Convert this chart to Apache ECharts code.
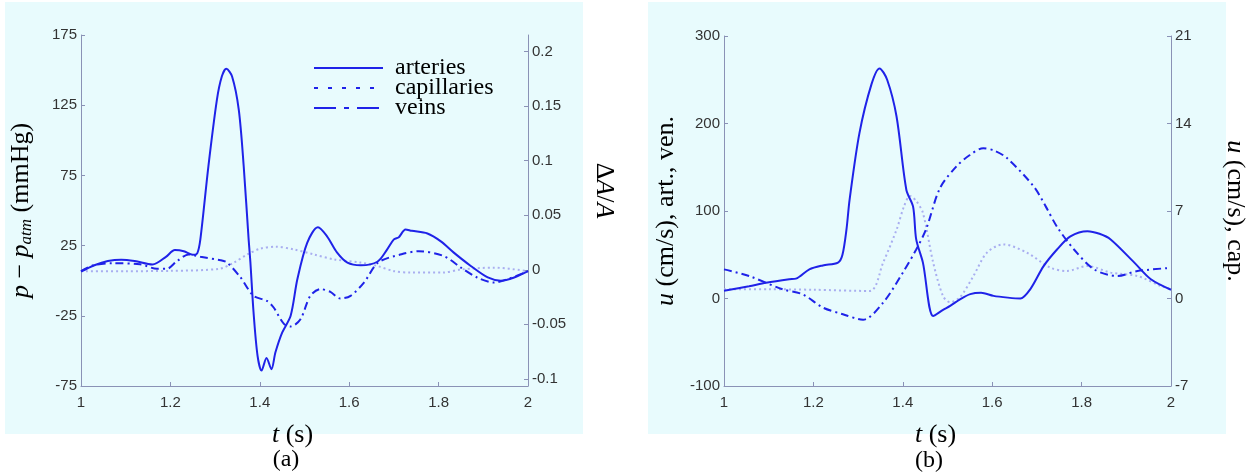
<!DOCTYPE html>
<html><head><meta charset="utf-8">
<script src="https://cdn.jsdelivr.net/npm/echarts@6/dist/echarts.min.js"></script>
<style>html,body{margin:0;padding:0;background:#fff}#c{width:1259px;height:475px}</style>
</head><body><div id="c"></div><script>
// ---------- data ----------
// panel (a): pressure p - p_atm (mmHg) vs t (s)
const aArteriesT = [1.00,1.03,1.06,1.09,1.12,1.16,1.19,1.21,1.23,1.25,1.26,1.267,1.285,1.304,1.315,1.325,1.338,1.353,1.364,1.375,1.379,1.386,1.395,1.404,1.415,1.426,1.435,1.45,1.469,1.484,1.506,1.53,1.55,1.573,1.596,1.626,1.663,1.685,1.70,1.711,1.726,1.74,1.775,1.805,1.834,1.872,1.91,1.939,1.969,2.0];
const aArteriesP = [6.5,11,14,15,14,11.5,17,21.8,21,18.5,19.5,29.4,81.5,128.8,145.4,150.9,145.4,121.7,81.5,29.4,13,-22.5,-53.5,-64,-55,-63,-51,-37,-25,1,27,38,31.8,20,12.9,11,13.5,22.3,29.4,31,36.5,35.5,33.6,28,20,10.5,2.3,0,2.3,6.8];
const aCapillariesT = [1.0,1.1,1.2,1.31,1.342,1.372,1.401,1.435,1.476,1.521,1.566,1.626,1.663,1.70,1.738,1.81,1.85,1.924,2.0];
const aCapillariesP = [6.8,6.8,7,8.5,12.9,18.7,22.8,24.2,22.3,18.7,15.2,12.9,10.5,6.8,5.8,5.8,8,9.3,6.8];
const aVeinsT = [1.0,1.028,1.073,1.132,1.17,1.192,1.215,1.241,1.267,1.312,1.327,1.357,1.386,1.416,1.431,1.454,1.469,1.491,1.513,1.536,1.558,1.58,1.603,1.633,1.665,1.717,1.756,1.812,1.85,1.887,1.924,1.954,2.0];
const aVeinsP = [6.8,11,12.4,11.7,8.5,8.5,14,18.7,17,14.6,12.9,2.3,-10.8,-14.4,-19.1,-30.8,-32.6,-27.4,-10.8,-6,-8,-12.7,-10.8,-1.3,13,18.8,21,17.5,9.3,2.2,-1.3,1,6.8];

// panel (b): velocity u (cm/s) vs t (s); capillaries on the right axis
const bArteriesT = [1.0,1.056,1.094,1.146,1.161,1.191,1.221,1.255,1.265,1.274,1.281,1.303,1.33,1.348,1.365,1.386,1.408,1.423,1.43,1.445,1.468,1.49,1.506,1.528,1.551,1.575,1.603,1.635,1.663,1.685,1.715,1.745,1.775,1.813,1.84,1.865,1.918,1.955,2.0];
const bArteriesU = [8.8,14,18,22,22.7,33.3,37.8,41,50,79,113,189,245,263,250,208,124,105,67.5,41,-20,-13,-8.5,-1,5,6.5,3,1,0,10.5,37,56,71,77,74,67.5,41,22,10];
const bCapillariesT = [1.0,1.1,1.2,1.326,1.356,1.386,1.403,1.416,1.43,1.445,1.468,1.49,1.506,1.528,1.558,1.588,1.625,1.678,1.73,1.767,1.813,1.865,1.925,1.977,2.0];
const bCapillariesU = [0.74,0.74,0.7,0.6,2.87,5.5,7.4,8.2,7.8,6.85,2.87,0.2,-0.3,0.1,1.8,3.66,4.33,3.66,2.47,2.2,2.6,2.07,1.8,1.0,0.74];
const bVeinsT = [1.0,1.056,1.131,1.176,1.221,1.266,1.311,1.356,1.4,1.43,1.452,1.483,1.52,1.55,1.58,1.605,1.633,1.693,1.72,1.745,1.783,1.828,1.88,1.925,2.0];
const bVeinsU = [33.3,25.7,10.5,4.8,-10.3,-18,-24.3,-4.7,29.5,56,79,126,151,164,171.7,169,160.5,128,105,82,56,33.3,25.7,31.4,35];

// tick labels
const aLeftTicks = [-75,-25,25,75,125,175];
const aRightTicks = [-0.1,-0.05,0,0.05,0.1,0.15,0.2];
const seriesNames = ['arteries','capillaries','veins'];

// ---------- styling ----------
const BG = '#e8fbfd', AX = '#8a92b6', LBL = '#333333', BLUE = '#1f22e8', PALE = '#a9aef0';
const serif = 'Liberation Serif', sans = 'Liberation Sans';
const zip = (t, v) => t.map((x, i) => [x, v[i]]);
const fmt = v => String(Math.round(v * 1000) / 1000);

function nameStyle(extra) {
  return Object.assign({
    fontFamily: serif, fontSize: 26, color: '#000',
    rich: {
      i: { fontFamily: serif, fontSize: 26, fontStyle: 'italic', color: '#000', lineHeight: 28 },
      n: { fontFamily: serif, fontSize: 26, color: '#000', lineHeight: 28 },
      s: { fontFamily: serif, fontSize: 17, fontStyle: 'italic', color: '#000', verticalAlign: 'bottom' }
    }
  }, extra || {});
}
function xAxis(gi) {
  return {
    type: 'value', gridIndex: gi, min: 1, max: 2, interval: 0.2,
    axisLine: { show: true, onZero: false, lineStyle: { color: AX, width: 1 } },
    axisTick: { show: true, inside: true, length: 4, lineStyle: { color: AX } },
    axisLabel: { color: LBL, fontFamily: sans, fontSize: 15, margin: 9, formatter: v => String(Math.round(v * 10) / 10) },
    splitLine: { show: false },
    name: '{i|t}{n| (s)}', nameLocation: 'middle', nameGap: 35,
    nameTextStyle: nameStyle({ padding: [0, 24, 0, 0] })
  };
}
function yAxis(gi, pos, o) {
  return Object.assign({
    type: 'value', gridIndex: gi, position: pos,
    axisLine: { show: true, onZero: false, lineStyle: { color: AX, width: 1 } },
    axisTick: { show: true, inside: true, length: 4, lineStyle: { color: AX } },
    axisLabel: { color: LBL, fontFamily: sans, fontSize: 15, margin: 4, formatter: fmt },
    splitLine: { show: false },
    nameLocation: 'middle'
  }, o);
}
function line(name, xi, yi, t, v, style) {
  return {
    type: 'line', name, xAxisIndex: xi, yAxisIndex: yi, data: zip(t, v),
    symbol: 'none', showSymbol: false, smooth: 0.3, clip: false,
    lineStyle: Object.assign({ color: BLUE, width: 2 }, style),
    itemStyle: { color: style && style.color ? style.color : BLUE }
  };
}
const solid = { type: 'solid' };
const dotted = { color: PALE, type: [2, 3] };
const dashdot = { type: [8, 4, 2, 4] };

const option = {
  animation: false,
  backgroundColor: '#ffffff',
  graphic: [
    { type: 'rect', z: -10, silent: true, shape: { x: 5, y: 2, width: 578, height: 432 }, style: { fill: BG } },
    { type: 'rect', z: -10, silent: true, shape: { x: 648, y: 2, width: 578, height: 432 }, style: { fill: BG } },
    { type: 'text', x: 286, y: 460, style: { text: '(a)', font: '24px "Liberation Serif"', fill: '#000', align: 'center', verticalAlign: 'middle' } },
    { type: 'text', x: 929, y: 461, style: { text: '(b)', font: '24px "Liberation Serif"', fill: '#000', align: 'center', verticalAlign: 'middle' } }
  ],
  grid: [
    { left: 81, top: 35, width: 447, height: 351, containLabel: false },
    { left: 724, top: 36, width: 447, height: 350, containLabel: false }
  ],
  legend: {
    orient: 'vertical', left: 308, top: 51, itemWidth: 69, itemHeight: 10, itemGap: -4,
    itemStyle: { opacity: 0 },
    textStyle: { fontFamily: serif, fontSize: 24, color: '#000', padding: [0, 0, 0, 7] },
    data: [
      { name: 'arteries', itemStyle: { opacity: 0 }, lineStyle: { color: BLUE, type: 'solid' } },
      { name: 'capillaries', itemStyle: { opacity: 0 }, lineStyle: { color: BLUE, type: [4, 10] } },
      { name: 'veins', itemStyle: { opacity: 0 }, lineStyle: { color: BLUE, type: [22, 8, 5, 8] } }
    ]
  },
  xAxis: [xAxis(0), xAxis(1)],
  yAxis: [
    yAxis(0, 'left', {
      min: -75, max: 175,
      axisTick: { show: true, inside: true, length: 4, lineStyle: { color: AX }, customValues: aLeftTicks },
      axisLabel: { color: LBL, fontFamily: sans, fontSize: 15, margin: 4, formatter: fmt, customValues: aLeftTicks },
      name: '{i|p}{n| − }{i|p}{s|atm}{n| (mmHg)}', nameGap: 46, nameRotate: 90,
      nameTextStyle: nameStyle()
    }),
    yAxis(0, 'right', {
      min: -0.1065, max: 0.2152,
      axisTick: { show: true, inside: true, length: 4, lineStyle: { color: AX }, customValues: aRightTicks },
      axisLabel: { color: LBL, fontFamily: sans, fontSize: 15, margin: 4, formatter: fmt, customValues: aRightTicks },
      name: '{n|Δ}{i|A}{n|/}{i|A}', nameGap: 62, nameRotate: -90,
      nameTextStyle: nameStyle({ padding: [0, 40, 0, 0] })
    }),
    yAxis(1, 'left', {
      min: -100, max: 300, interval: 100,
      name: '{i|u}{n| (cm/s), art., ven.}', nameGap: 44, nameRotate: 90,
      nameTextStyle: nameStyle()
    }),
    yAxis(1, 'right', {
      min: -7, max: 21, interval: 7,
      name: '{i|u}{n| (cm/s), cap.}', nameGap: 50, nameRotate: -90,
      nameTextStyle: nameStyle()
    })
  ],
  series: [
    line('capillaries', 0, 0, aCapillariesT, aCapillariesP, dotted),
    line('veins', 0, 0, aVeinsT, aVeinsP, dashdot),
    line('arteries', 0, 0, aArteriesT, aArteriesP, solid),
    line('capillaries', 1, 3, bCapillariesT, bCapillariesU, dotted),
    line('veins', 1, 2, bVeinsT, bVeinsU, dashdot),
    line('arteries', 1, 2, bArteriesT, bArteriesU, solid)
  ]
};
const chart = echarts.init(document.getElementById('c'), null, { renderer: 'canvas' });
chart.setOption(option);
</script></body></html>
